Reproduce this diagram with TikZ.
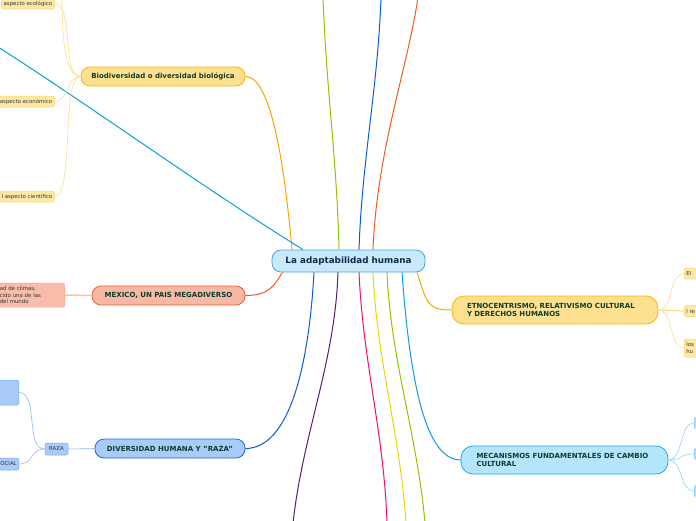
\documentclass[tikz,border=0pt]{standalone}
\usepackage{fontspec}
\setmainfont{DejaVu Sans}
\definecolor{rootfill}{HTML}{C6EAFA}
\definecolor{rootline}{HTML}{45A6DE}
\definecolor{roottext}{HTML}{0F2A4A}
\definecolor{topictext}{HTML}{0C3D2C}
\definecolor{goldfill}{HTML}{FDE08F}
\definecolor{goldline}{HTML}{F6B600}
\definecolor{goldleaf}{HTML}{FDE9A6}
\definecolor{goldleafline}{HTML}{FCD36A}
\definecolor{salmonfill}{HTML}{F9B8A3}
\definecolor{salmonline}{HTML}{EA5F3A}
\definecolor{salmonleaf}{HTML}{F9BCA9}
\definecolor{salmonleafline}{HTML}{F7A48C}
\definecolor{bluefill}{HTML}{A9CBFA}
\definecolor{blueline}{HTML}{1B6AD6}
\definecolor{blueleafline}{HTML}{74A6EE}
\definecolor{cyanfill}{HTML}{B4E5FB}
\definecolor{cyanline}{HTML}{1EA6EC}
\definecolor{lkorange}{HTML}{F7A600}
\definecolor{lkcyan}{HTML}{0A9EE3}
\definecolor{lkgreen}{HTML}{8DC500}
\definecolor{lkblue}{HTML}{0A5AD8}
\definecolor{lkred}{HTML}{F15A24}
\definecolor{lkpurple}{HTML}{5B1A7A}
\definecolor{lkpink}{HTML}{EE0E74}
\definecolor{lkyellow}{HTML}{F0D400}
\definecolor{lkgoldsoft}{HTML}{FCDD8D}
\definecolor{lksalmonsoft}{HTML}{F9C0AE}
\definecolor{lkbluesoft}{HTML}{8AB8F3}
\definecolor{lkcyansoft}{HTML}{8FD4F7}
\tikzset{
  root/.style={draw=rootline,fill=rootfill,line width=0.8pt,rounded corners=9pt,
    minimum width=153pt,minimum height=22pt,text=roottext,
    font=\fontsize{8.8}{10}\selectfont\bfseries},
  topic/.style={line width=0.8pt,rounded corners=9pt,minimum height=19pt,
    text=topictext,font=\fontsize{7}{8.6}\selectfont\bfseries},
  widetopic/.style={topic,minimum width=206pt,minimum height=28pt,text width=176pt,
    inner xsep=15pt,align=left,rounded corners=12pt},
  leaf/.style={line width=0.5pt,rounded corners=2pt,inner sep=2pt,minimum height=11pt,
    text=black!80,font=\fontsize{5.4}{6.3}\selectfont},
  goldleafbox/.style={leaf,draw=goldleafline,fill=goldleaf},
  edgeleaf/.style={goldleafbox,anchor=west,text width=25pt,align=left},
  link/.style={line width=1pt},
  twig/.style={line width=0.6pt}
}
\begin{document}
\begin{tikzpicture}[x=1pt,y=-1pt]
\useasboundingbox (0,0) rectangle (696,520);
\clip (0,0) rectangle (696,520);

\node[root] (root) at (348.5,261) {La adaptabilidad humana};

\node[topic,draw=goldline,fill=goldfill,minimum width=164pt] (bio) at (163,76.5) {Biodiversidad o diversidad biológica};
\node[topic,draw=salmonline,fill=salmonfill,minimum width=153pt] (mexico) at (168.5,295.5) {MEXICO, UN PAIS MEGADIVERSO};
\node[topic,draw=blueline,fill=bluefill,minimum width=150pt] (divers) at (170,448.5) {DIVERSIDAD HUMANA Y "RAZA"};
\node[widetopic,draw=goldline,fill=goldfill] (etno) at (555,310) {ETNOCENTRISMO, RELATIVISMO CULTURAL\\Y DERECHOS HUMANOS};
\node[widetopic,draw=cyanline,fill=cyanfill,minimum width=207pt] (mecan) at (564.5,460) {MECANISMOS FUNDAMENTALES DE CAMBIO\\CULTURAL};

\node[goldleafbox,anchor=east] (eco) at (54.5,3.5) {aspecto ecológico};
\node[goldleafbox,anchor=east] (econ) at (54.5,101.5) {aspecto económico};
\node[goldleafbox,anchor=east] (cient) at (54.5,196.5) {l aspecto científico};
\coordinate (bioup) at (62,-25);

\node[leaf,draw=salmonleafline,fill=salmonleaf,anchor=east,text width=62pt,align=left,
  minimum height=24pt,inner xsep=3pt] (mexleaf) at (65,295) {ad de climas,\\cido una de las\\del mundo};

\node[leaf,draw=blueleafline,fill=bluefill,minimum width=23pt,minimum height=12pt] (raza) at (56.5,449) {RAZA};
\node[leaf,draw=blueleafline,fill=bluefill,anchor=east,minimum width=30pt,minimum height=25pt] (razaup) at (19,392.5) {};
\node[leaf,draw=blueleafline,fill=bluefill,anchor=east,minimum height=12pt] (razasoc) at (19,464) {OCIAL};

\node[edgeleaf] (etnoa) at (684,273.5) {El};
\node[edgeleaf] (etnob) at (684,311) {l re};
\node[edgeleaf,minimum height=18pt] (etnoc) at (684,348) {los\\hu};

\node[leaf,draw=cyanline!70,fill=cyanfill,anchor=west,minimum width=20pt] (meca) at (694,423) {};
\node[leaf,draw=cyanline!70,fill=cyanfill,anchor=west,minimum width=20pt] (mecb) at (694,454) {};
\node[leaf,draw=cyanline!70,fill=cyanfill,anchor=west,minimum width=20pt] (mecc) at (694,491) {};

\coordinate (cyanend) at (-5,45);
\coordinate (greenup) at (323,-3);
\coordinate (blueup) at (381,-3);
\coordinate (redup) at (418,-3);
\coordinate (purpledown) at (293,523);
\coordinate (pinkdown) at (387,523);
\coordinate (yellowdown) at (406,523);
\coordinate (greendown) at (425,523);

\draw[link,lkorange] (bio.east) .. controls +(25,0) and +(-8,-90) .. ([xshift=-56.5pt]root.north);
\draw[link,lkcyan] ([xshift=-45.5pt]root.north) .. controls +(-100,-62) and +(100,64) .. (cyanend);
\draw[link,lkgreen] ([xshift=-9.5pt]root.north) .. controls +(-2,-90) and +(3,90) .. (greenup);
\draw[link,lkblue] ([xshift=10.5pt]root.north) .. controls +(3,-90) and +(-3,90) .. (blueup);
\draw[link,lkred] ([xshift=24.5pt]root.north) .. controls +(4,-100) and +(-10,70) .. (redup);
\draw[link,lkred] ([xshift=-66pt]root.south) .. controls +(-8,12) and +(25,0) .. (mexico.east);
\draw[link,lkblue] ([xshift=-34.5pt]root.south) .. controls +(-5,90) and +(45,0) .. (divers.east);
\draw[link,lkpurple] ([xshift=-10.5pt]root.south) .. controls +(-3,90) and +(10,-90) .. (purpledown);
\draw[link,lkpink] ([xshift=10.5pt]root.south) .. controls +(4,90) and +(-3,-90) .. (pinkdown);
\draw[link,lkyellow] ([xshift=24.5pt]root.south) .. controls +(4,90) and +(-6,-90) .. (yellowdown);
\draw[link,lkgreen] ([xshift=38.5pt]root.south) .. controls +(4,90) and +(-8,-90) .. (greendown);
\draw[link,lkcyan] ([xshift=53.5pt]root.south) .. controls +(8,110) and +(-35,0) .. (mecan.west);
\draw[link,lkorange] ([xshift=68.5pt]root.south) .. controls +(10,30) and +(-25,0) .. (etno.west);

\draw[twig,lkgoldsoft] (bio.west) .. controls +(-20,0) and +(20,0) .. (eco.east);
\draw[twig,lkgoldsoft] (bio.west) .. controls +(-20,0) and +(0,40) .. (bioup);
\draw[twig,lkgoldsoft] (bio.west) .. controls +(-15,0) and +(15,0) .. (econ.east);
\draw[twig,lkgoldsoft] (bio.west) .. controls +(-20,0) and +(20,0) .. (cient.east);
\draw[line width=1.5pt,lksalmonsoft] (mexico.west) -- (mexleaf.east);
\draw[twig,lkbluesoft] (divers.west) -- (raza.east);
\draw[twig,lkbluesoft] (raza.west) .. controls +(-20,0) and +(20,0) .. (razaup.east);
\draw[twig,lkbluesoft] (raza.west) .. controls +(-15,0) and +(15,0) .. (razasoc.east);
\draw[twig,lkgoldsoft] (etno.east) .. controls +(15,0) and +(-15,0) .. (etnoa.west);
\draw[line width=1.2pt,lkgoldsoft] (etno.east) -- (etnob.west);
\draw[twig,lkgoldsoft] (etno.east) .. controls +(15,0) and +(-15,0) .. (etnoc.west);
\draw[twig,lkcyansoft] (mecan.east) .. controls +(15,0) and +(-15,0) .. (meca.west);
\draw[twig,lkcyansoft] (mecan.east) .. controls +(15,0) and +(-15,0) .. (mecb.west);
\draw[twig,lkcyansoft] (mecan.east) .. controls +(15,0) and +(-15,0) .. (mecc.west);
\end{tikzpicture}
\end{document}
